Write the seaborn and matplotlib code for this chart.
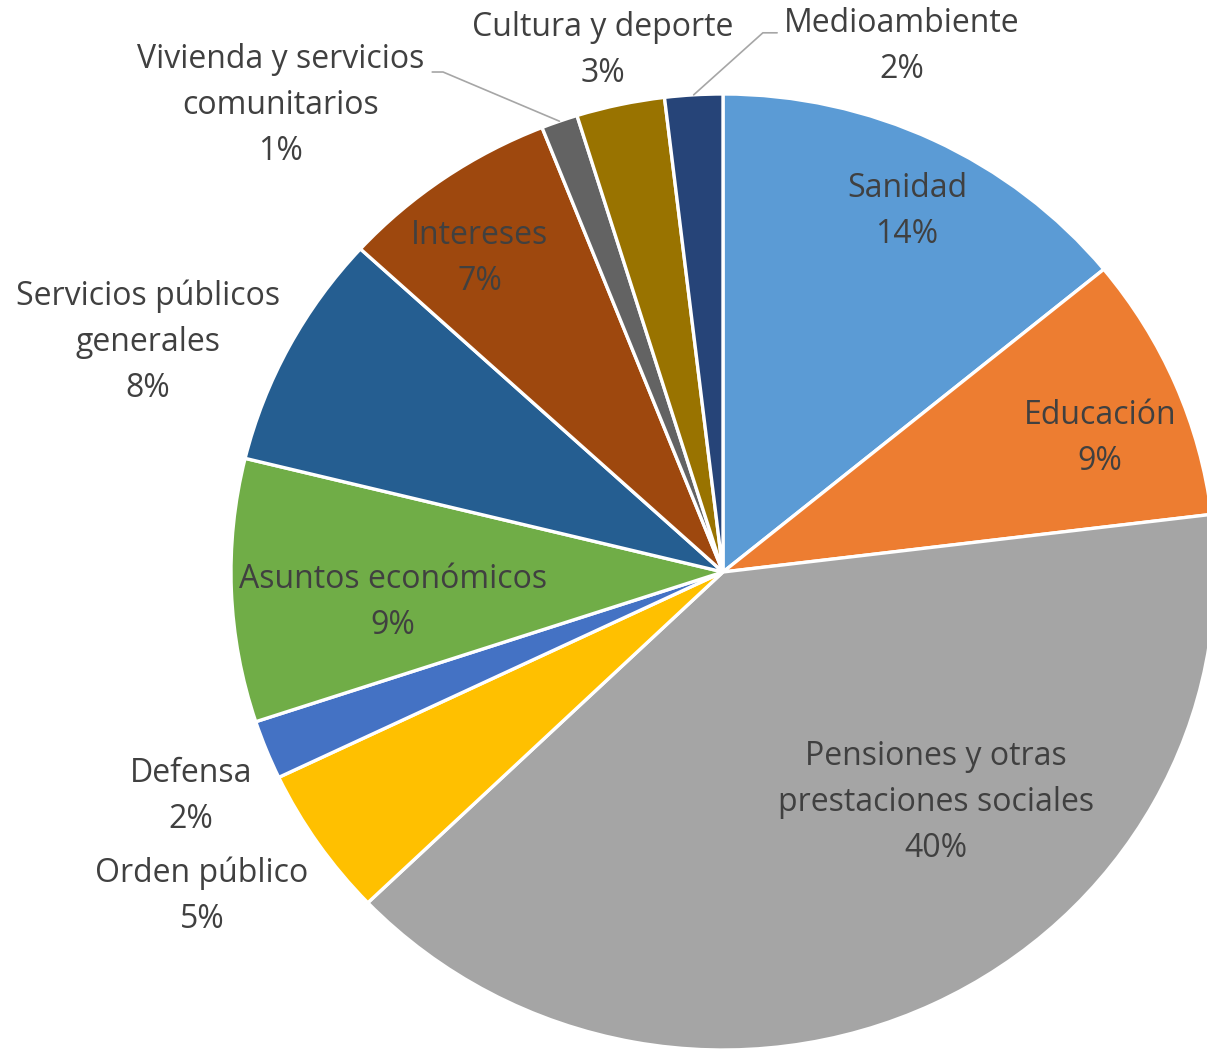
import matplotlib
matplotlib.use("Agg")
import matplotlib.pyplot as plt
import seaborn as sns
import numpy as np

# ---- data ----
categories = ["Sanidad", "Educación", "Pensiones y otras\nprestaciones sociales",
              "Orden público", "Defensa", "Asuntos económicos",
              "Servicios públicos\ngenerales", "Intereses",
              "Vivienda y servicios\ncomunitarios", "Cultura y deporte",
              "Medioambiente"]
values = [14.1, 9.0, 39.8, 5.1, 2.0, 8.9, 8.0, 7.2, 1.2, 2.9, 1.9]
colors_hex = ["#5B9BD5", "#ED7D31", "#A5A5A5", "#FFC000", "#4472C4", "#70AD47",
              "#255E91", "#9E480E", "#636363", "#997300", "#264478"]

# ---- layout (label centres in axes data units) ----
label_pos = [(0.374, 0.755), (0.766, 0.280), (0.433, -0.483), (-1.059, -0.678),
             (-1.081, -0.469), (-0.671, -0.063), (-1.169, 0.481), (-0.494, 0.655),
             (-0.900, 0.975), (-0.244, 1.092), (0.364, 1.100)]
# leader lines: index -> (text-side start, elbow)
leaders = {8: ((-0.591, 1.046), (-0.569, 1.046)),
           10: ((0.110, 1.128), (0.081, 1.128))}

sns.set_theme(style="white")
plt.rcParams['font.family'] = ['Open Sans', 'DejaVu Sans']
palette = sns.color_palette(colors_hex)

W, H = 1207, 1050
fig = plt.figure(figsize=(W / 100, H / 100), dpi=100)
cx, cy, rx, ry = 723, 572, 492, 478
ax = fig.add_axes([(cx - rx) / W, (H - cy - ry) / H, 2 * rx / W, 2 * ry / H])

wedges, _ = ax.pie(values, colors=palette, startangle=90, counterclock=False,
                   radius=1.0, wedgeprops=dict(edgecolor="white", linewidth=2.4))
ax.set_aspect('auto')
ax.set_xlim(-1, 1)
ax.set_ylim(-1, 1)
ax.axis('off')

txt_color = "#404040"
for i, (cat, v) in enumerate(zip(categories, values)):
    x, y = label_pos[i]
    ax.text(x, y, f"{cat}\n{v:.0f}%", ha="center", va="center", fontsize=23,
            color=txt_color, linespacing=1.52, clip_on=False)

for i, (start, elbow) in leaders.items():
    w = wedges[i]
    mid = np.deg2rad((w.theta1 + w.theta2) / 2)
    end = (np.cos(mid) * 1.0, np.sin(mid) * 1.0)
    ax.plot([start[0], elbow[0], end[0]], [start[1], elbow[1], end[1]],
            color="#A6A6A6", lw=1.2, clip_on=False, zorder=3)

fig.savefig("out.png", dpi=100)
